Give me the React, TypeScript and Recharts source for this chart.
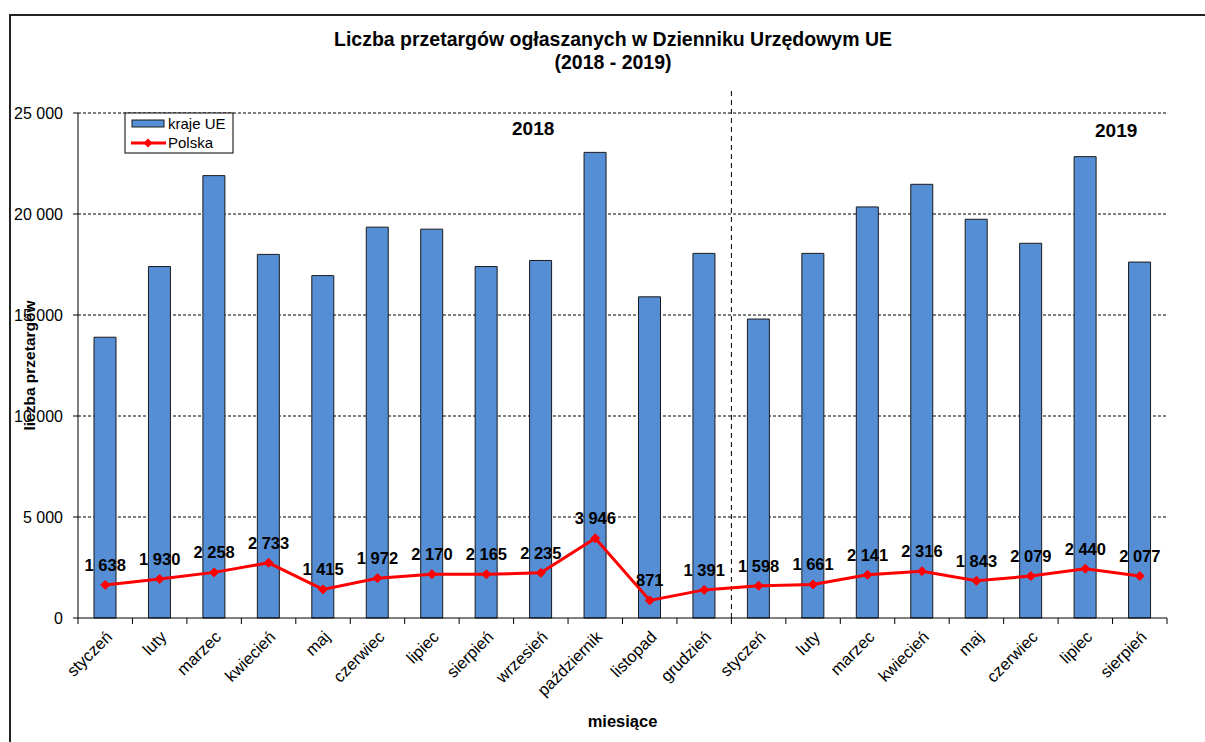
import React from "react";
import {
  ComposedChart,
  Bar,
  Line,
  XAxis,
  YAxis,
  CartesianGrid,
  ReferenceLine,
  LabelList,
} from "recharts";

const months = [
  "styczeń", "luty", "marzec", "kwiecień", "maj", "czerwiec", "lipiec", "sierpień",
  "wrzesień", "październik", "listopad", "grudzień",
  "styczeń", "luty", "marzec", "kwiecień", "maj", "czerwiec", "lipiec", "sierpień",
];
const years = [
  2018, 2018, 2018, 2018, 2018, 2018, 2018, 2018, 2018, 2018, 2018, 2018,
  2019, 2019, 2019, 2019, 2019, 2019, 2019, 2019,
];
const krajeUE = [
  13900, 17400, 21900, 18000, 16950, 19350, 19250, 17400, 17700, 23050, 15900, 18050,
  14800, 18050, 20350, 21470, 19740, 18550, 22840, 17620,
];
const polska = [
  1638, 1930, 2258, 2733, 1415, 1972, 2170, 2165, 2235, 3946, 871, 1391,
  1598, 1661, 2141, 2316, 1843, 2079, 2440, 2077,
];
const yTicks = [0, 5000, 10000, 15000, 20000, 25000];

const data = months.map((m, i) => ({
  key: `${m} ${years[i]}`,
  month: m,
  ue: krajeUE[i],
  pl: polska[i],
}));

const FONT = "'Liberation Sans', Arial, Helvetica, sans-serif";
const fmt = (v: number) => String(v).replace(/\B(?=(\d{3})+(?!\d))/g, " ");

const XTick = (props: any) => {
  const { x, y, payload, index } = props;
  const off = payload?.offset ?? 0;
  const label = data[index]?.month ?? "";
  const isLast = index === data.length - 1;
  return (
    <g>
      <line x1={x - off} x2={x - off} y1={y - 6} y2={y} stroke="#000" strokeWidth={1} />
      {isLast && <line x1={x + off} x2={x + off} y1={y - 6} y2={y} stroke="#000" strokeWidth={1} />}
      <text
        transform={`translate(${x + 8},${y + 14}) rotate(-45)`}
        textAnchor="end"
        fontFamily={FONT}
        fontSize={16.5}
        fill="#000"
      >
        {label}
      </text>
    </g>
  );
};

const Diamond = (props: any) => {
  const { cx, cy } = props;
  if (cx == null || cy == null) return null;
  const s = 4.5;
  return (
    <polygon
      points={`${cx},${cy - s} ${cx + s},${cy} ${cx},${cy + s} ${cx - s},${cy}`}
      fill="#FF0000"
      stroke="#FF0000"
    />
  );
};

export default function App() {
  return (
    <div style={{ position: "absolute", left: 0, top: 0, width: 1205, height: 742, background: "#fff", fontFamily: FONT }}>
      <div
        style={{
          position: "absolute",
          left: 9,
          top: 14,
          width: 1200,
          height: 740,
          borderLeft: "2px solid #222",
          borderTop: "2px solid #222",
        }}
      />
      <div
        style={{
          position: "absolute",
          left: 0,
          width: 1226,
          top: 28,
          textAlign: "center",
          fontWeight: "bold",
          fontSize: 19.5,
          lineHeight: "23px",
          color: "#000",
        }}
      >
        Liczba przetargów ogłaszanych w Dzienniku Urzędowym UE
        <br />
        (2018 - 2019)
      </div>
      <ComposedChart
        width={1205}
        height={742}
        data={data}
        margin={{ top: 113, right: 38, bottom: 24, left: 10 }}
        barCategoryGap={0}
        style={{ position: "absolute", left: 0, top: 0 }}
      >
        <CartesianGrid vertical={false} stroke="#000" strokeDasharray="3 2" horizontalValues={[5000, 10000, 15000, 20000, 25000]} />
        <XAxis
          dataKey="key"
          interval={0}
          tickLine={false}
          tickSize={6}
          tickMargin={0}
          height={100}
          tick={<XTick />}
          axisLine={{ stroke: "#000", strokeWidth: 1 }}
          label={{
            value: "miesiące",
            position: "insideBottom",
            offset: -9,
            style: { fontFamily: FONT, fontWeight: "bold", fontSize: 16.5, fill: "#000" },
          }}
        />
        <YAxis
          domain={[0, 25000]}
          ticks={yTicks}
          width={68}
          tickSize={5}
          tickMargin={10}
          tickFormatter={fmt}
          tick={{ fontFamily: FONT, fontSize: 16, fill: "#000" }}
          axisLine={{ stroke: "#000", strokeWidth: 1 }}
          tickLine={{ stroke: "#000" }}
          label={{
            value: "liczba przetargów",
            angle: -90,
            position: "insideLeft",
            offset: 19,
            style: { fontFamily: FONT, fontWeight: "bold", fontSize: 15.5, fill: "#000", textAnchor: "middle" },
          }}
        />
        <Bar
          dataKey="ue"
          name="kraje UE"
          barSize={22}
          fill="#558ED5"
          stroke="#1a1a1a"
          strokeWidth={1}
          isAnimationActive={false}
        />
        <ReferenceLine
          segment={[
            { x: "styczeń 2019", y: 0 },
            { x: "styczeń 2019", y: 26200 },
          ]}
          position="start"
          ifOverflow="visible"
          stroke="#000"
          strokeDasharray="5 4"
          strokeWidth={1}
        />
        <Line
          dataKey="pl"
          name="Polska"
          stroke="#FF0000"
          strokeWidth={3}
          dot={<Diamond />}
          activeDot={false}
          isAnimationActive={false}
        >
          <LabelList
            dataKey="pl"
            position="top"
            offset={14}
            formatter={(v: any) => fmt(Number(v))}
            style={{ fontFamily: FONT, fontWeight: "bold", fontSize: 16.5, fill: "#000" }}
          />
        </Line>
      </ComposedChart>
      <div style={{ position: "absolute", left: 512, top: 118, fontWeight: "bold", fontSize: 19, color: "#000" }}>2018</div>
      <div style={{ position: "absolute", left: 1095, top: 120, fontWeight: "bold", fontSize: 19, color: "#000" }}>2019</div>
      <svg style={{ position: "absolute", left: 124, top: 112 }} width={112} height={44}>
        <rect x={1} y={1} width={108} height={40} fill="#fff" stroke="#000" strokeWidth={1} />
        <rect x={8} y={8} width={32} height={7} fill="#558ED5" stroke="#1a1a1a" strokeWidth={1} />
        <text x={44} y={17} fontFamily={FONT} fontSize={15} fill="#000">kraje UE</text>
        <line x1={7} x2={42} y1={31} y2={31} stroke="#FF0000" strokeWidth={3} />
        <polygon points="24,26.5 28.5,31 24,35.5 19.5,31" fill="#FF0000" />
        <text x={44} y={36} fontFamily={FONT} fontSize={15} fill="#000">Polska</text>
      </svg>
    </div>
  );
}
